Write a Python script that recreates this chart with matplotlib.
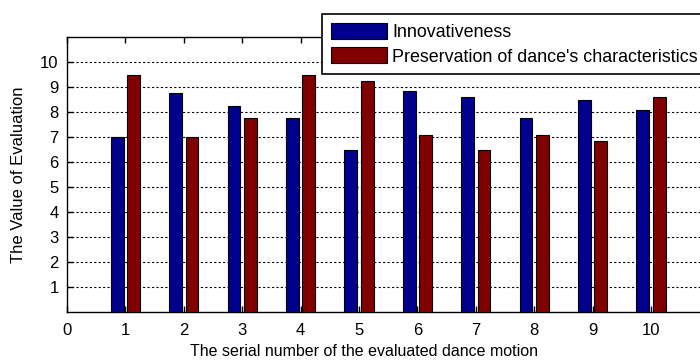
import numpy as np
import matplotlib.pyplot as plt

plt.rcParams['font.family'] = ['Liberation Sans', 'DejaVu Sans']

# evaluation scores per dance motion
motion = np.arange(1, 11)
innovativeness = [7.0, 8.75, 8.25, 7.75, 6.5, 8.85, 8.6, 7.75, 8.5, 8.1]
preservation = [9.5, 7.0, 7.75, 9.5, 9.25, 7.1, 6.5, 7.1, 6.85, 8.6]
x_ticks = list(range(0, 11))
y_ticks = list(range(1, 11))

fig = plt.figure(figsize=(7, 3.61), dpi=100)
ax = fig.add_axes([0.0957, 0.1357, 0.9177, 0.7618])

w = 0.22
ax.bar(motion - 0.14, innovativeness, w, color='#00008f', edgecolor='black',
       linewidth=0.8, label='Innovativeness', zorder=3)
ax.bar(motion + 0.14, preservation, w, color='#800000', edgecolor='black',
       linewidth=0.8, label="Preservation of dance's characteristics", zorder=3)

ax.set_xlim(0, 11)
ax.set_ylim(0, 11)
ax.set_xticks(x_ticks)
ax.set_yticks(y_ticks)
ax.tick_params(direction='in', top=True, right=True, labelsize=12, length=4, width=1)
ax.tick_params(axis='x', pad=8)
ax.tick_params(axis='y', pad=6)
ax.yaxis.grid(True, linestyle=(0, (2, 2)), color='black', linewidth=0.8)
ax.set_axisbelow(True)
for s in ax.spines.values():
    s.set_linewidth(1)

ax.set_xlabel('The serial number of the evaluated dance motion', fontsize=11.5)
ax.xaxis.set_label_coords(0.462, -0.115)
ax.set_ylabel('The Value of Evaluation', fontsize=12, labelpad=10)

leg = fig.legend(loc='upper left', bbox_to_anchor=(322 / 700, 1 - 14 / 361),
                 borderaxespad=0, fontsize=12.9, fancybox=False, framealpha=1,
                 edgecolor='black', handlelength=3.1, handleheight=1.0,
                 handletextpad=0.33, labelspacing=0.35, borderpad=0.5)
leg.get_frame().set_linewidth(1.2)

plt.savefig('out.png', dpi=100)
